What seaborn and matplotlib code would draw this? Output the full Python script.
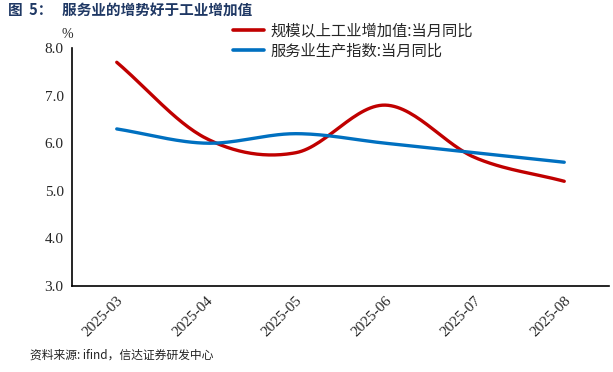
import numpy as np
import pandas as pd
import matplotlib
matplotlib.use("Agg")
import matplotlib.pyplot as plt
import seaborn as sns

months = ["2025-03", "2025-04", "2025-05", "2025-06", "2025-07", "2025-08"]
industry = [7.7, 6.1, 5.8, 6.8, 5.7, 5.2]
services = [6.3, 6.0, 6.2, 6.0, 5.8, 5.6]
series_names = ["规模以上工业增加值:当月同比", "服务业生产指数:当月同比"]
colors = ["#C00000", "#0070C0"]

sns.set_theme(style="white")
plt.rcParams['font.family'] = ['Noto Sans CJK SC', 'DejaVu Sans']


def smooth(y, n=30):
    # Catmull-Rom style smoothing similar to spreadsheet smoothed lines
    y = np.asarray(y, float)
    x = np.arange(len(y), dtype=float)
    P = np.concatenate([[2 * y[0] - y[1]], y, [2 * y[-1] - y[-2]]])
    xs, ys = [], []
    for i in range(len(y) - 1):
        p0, p1, p2, p3 = P[i], P[i + 1], P[i + 2], P[i + 3]
        t = np.linspace(0, 1, n, endpoint=(i == len(y) - 2))
        c1 = p1 + (p2 - p0) / 6
        c2 = p2 - (p3 - p1) / 6
        b = ((1 - t) ** 3) * p1 + 3 * (1 - t) ** 2 * t * c1 + 3 * (1 - t) * t ** 2 * c2 + t ** 3 * p2
        xs.append(x[i] + t)
        ys.append(b)
    return np.concatenate(xs), np.concatenate(ys)


frames = []
for name, vals in zip(series_names, [industry, services]):
    sx, sy = smooth(vals)
    frames.append(pd.DataFrame({"x": sx, "y": sy, "series": name}))
df = pd.concat(frames, ignore_index=True)

fig = plt.figure(figsize=(6.13, 3.72), dpi=100)
ax = fig.add_axes([72 / 613, 1 - 286 / 372, (609 - 72) / 613, (286 - 48) / 372])

sns.lineplot(data=df, x="x", y="y", hue="series", palette=colors, linewidth=2.4,
             ax=ax, sort=False, estimator=None)

ax.set_xlim(-0.5, len(months) - 0.5)
ax.set_ylim(3.0, 8.0)
ax.set_yticks(np.arange(3.0, 8.01, 1.0))
serif = ['Liberation Serif', 'DejaVu Serif']
ax.set_yticklabels([f"{v:.1f}" for v in np.arange(3.0, 8.01, 1.0)], fontsize=11, family=serif)
ax.set_xticks(np.arange(-0.5, len(months), 1.0))
ax.set_xticklabels([])
ax.set_xticks(np.arange(len(months)), minor=True)
ax.set_xticklabels(months, minor=True, rotation=45, ha='right', rotation_mode='anchor',
                   fontsize=11, family=serif)
ax.tick_params(axis='x', which='minor', length=0, pad=6)
ax.tick_params(axis='x', which='major', direction='out', length=4, width=1, color='black')
ax.tick_params(axis='y', direction='out', length=4, width=1, color='black', pad=2)
ax.set_xlabel("")
ax.set_ylabel("")
for s in ["top", "right"]:
    ax.spines[s].set_visible(False)
for s in ["left", "bottom"]:
    ax.spines[s].set_color("black")
    ax.spines[s].set_linewidth(1.2)

leg = ax.legend(loc='upper left', bbox_to_anchor=(0.275, 1.165), frameon=False,
                fontsize=11, handlelength=2.0, labelspacing=0.2, handletextpad=0.4)
for line in leg.get_lines():
    line.set_linewidth(2.6)

fig.text(62 / 613, 1 - 35 / 372, "%", fontsize=10, family=serif, ha='left', va='center')
fig.text(8 / 613, 1 - 10 / 372, "图  5：   服务业的增势好于工业增加值", fontsize=10.5,
         fontweight='bold', color='#1F3864', ha='left', va='center')
fig.text(30 / 613, 1 - 355 / 372, "资料来源: ifind，信达证券研发中心", fontsize=8.5,
         style='italic', color='#222222', ha='left', va='center')

fig.savefig("out.png", dpi=100)
